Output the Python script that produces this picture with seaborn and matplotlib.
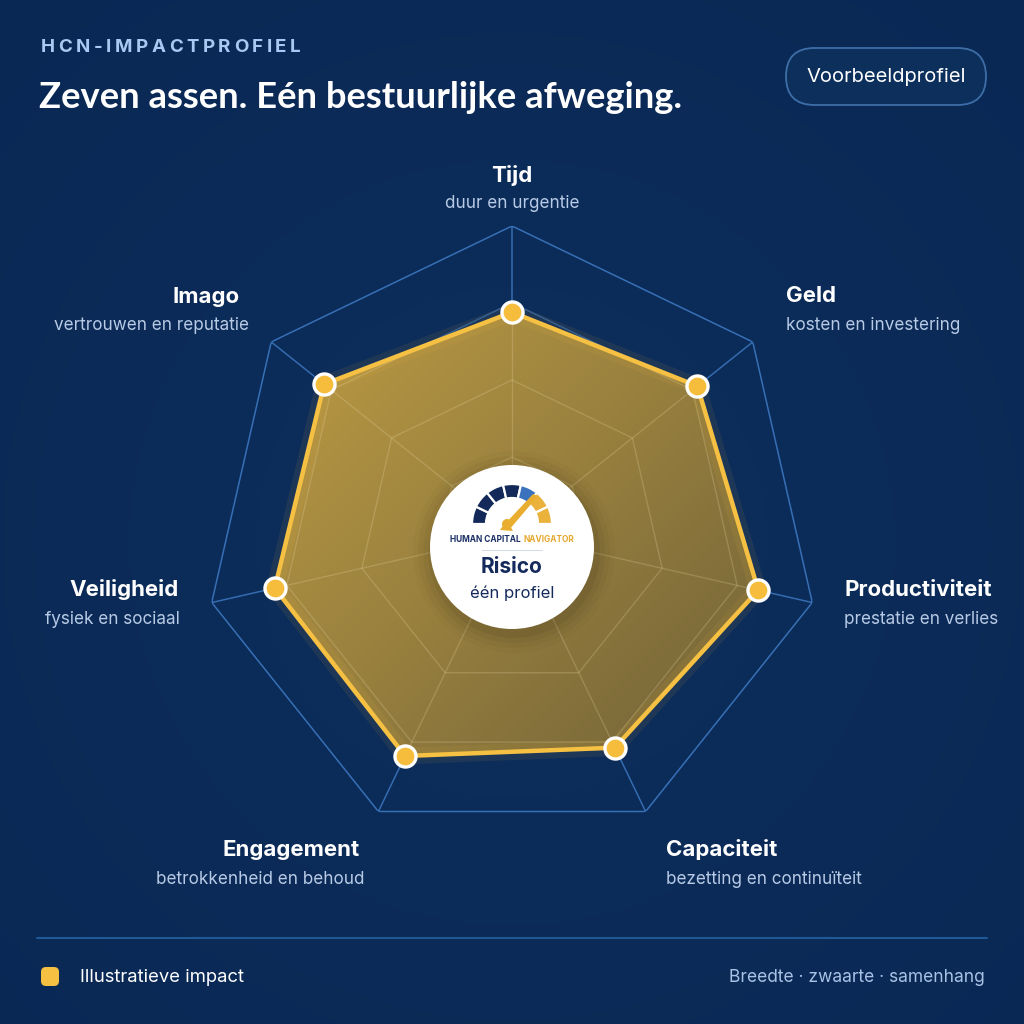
import numpy as np
import pandas as pd
import matplotlib
matplotlib.use("Agg")
import matplotlib.pyplot as plt
import seaborn as sns
from matplotlib.patches import Circle, Wedge, FancyBboxPatch, Polygon

# ---------------- data ----------------
axis_names = ["Tijd", "Geld", "Productiviteit", "Capaciteit", "Engagement", "Veiligheid", "Imago"]
axis_subs = ["duur en urgentie", "kosten en investering", "prestatie en verlies",
             "bezetting en continuïteit", "betrokkenheid en behoud", "fysiek en sociaal",
             "vertrouwen en reputatie"]
impact = [72, 77, 82, 77, 80, 79, 78]
ring_levels = [25, 50, 75, 100]
r_max = 100

kicker = "HCN-IMPACTPROFIEL"
title = "Zeven assen. Eén bestuurlijke afweging."
pill_text = "Voorbeeldprofiel"
legend_text = "Illustratieve impact"
footer_right = "Breedte · zwaarte · samenhang"
center_brand = ["HUMAN CAPITAL", "NAVIGATOR"]
center_title = "Risico"
center_sub = "één profiel"
gauge_colors = ["#12295a", "#12295a", "#12295a", "#12295a", "#3b72bd", "#eab23a", "#eab23a"]

# label layout (pixel anchors): title pos, sub pos, alignment
label_layout = [
    ((512, 175), (512, 204), "center"),
    ((786, 296), (786, 325), "left"),
    ((844, 590), (844, 620), "left"),
    ((666, 850), (666, 880), "left"),
    ((360, 850), (365, 880), "right"),
    ((179, 590), (180, 620), "right"),
    ((240, 297), (249, 325), "right"),
]

# ---------------- style ----------------
sns.set_theme(style="white")
plt.rcParams["font.family"] = ["Inter", "DejaVu Sans"]

W = 1024
BG = "#0b2b58"
GOLD = "#f6c142"
fig = plt.figure(figsize=(10.24, 10.24), dpi=100)
fig.patch.set_facecolor(BG)

# background with a very soft central glow
bg = fig.add_axes([0, 0, 1, 1], zorder=0)
bg.set_axis_off()
yy, xx = np.mgrid[0:256, 0:256] / 255.0
d = np.sqrt((xx - 0.5) ** 2 + (yy - 0.53) ** 2)
t = np.clip(d / 0.75, 0, 1)[..., None]
c_center = np.array([13, 46, 92]) / 255
c_edge = np.array([10, 40, 84]) / 255
bg.imshow(c_center * (1 - t) + c_edge * t, extent=(0, 1, 0, 1), aspect="auto")
bg.set_xlim(0, 1); bg.set_ylim(0, 1)

cx, cy, R = 512, 534, 308
rect = [(cx - R) / W, (W - cy - R) / W, 2 * R / W, 2 * R / W]

def make_polar(z):
    a = fig.add_axes(rect, projection="polar", zorder=z)
    a.set_theta_zero_location("N")
    a.set_theta_direction(-1)
    a.set_axis_off()
    return a

n = len(axis_names)
theta = np.arange(n) * 2 * np.pi / n
theta_c = np.append(theta, theta[0])
vals_c = np.append(impact, impact[0])

# --- polar layer 1: blue grid
p1 = make_polar(1)
for lv in ring_levels:
    p1.plot(theta_c, [lv] * (n + 1), color="#3f7cc6", lw=1.1, alpha=0.85 if lv == 100 else 0.55)
for th in theta:
    p1.plot([th, th], [0, r_max], color="#3f7cc6", lw=1.1, alpha=0.8)
p1.set_ylim(0, r_max)

# --- polar layer 3: outline, markers (create first to get clip patch)
p3 = make_polar(3)
clip_poly = p3.fill(theta_c, vals_c, facecolor="none", edgecolor="none")[0]

# --- cartesian layer 2: gradient fill clipped to polygon
g = fig.add_axes([0, 0, 1, 1], zorder=2)
g.set_axis_off()
g.patch.set_alpha(0)
gy, gx = np.mgrid[0:512, 0:512] * 2.0
tt = np.clip(((gx - 270) + (gy - 300)) / 950.0, 0, 1)[..., None]
c_tl = np.array([190, 156, 68]) / 255
c_br = np.array([112, 98, 56]) / 255
grad = c_tl * (1 - tt) + c_br * tt
img = g.imshow(grad, extent=(0, W, W, 0), aspect="auto")
g.set_xlim(0, W); g.set_ylim(W, 0)
img.set_clip_path(clip_poly)

# faint grid lines inside the fill
for lv in ring_levels[:3]:
    ln, = p3.plot(theta_c, [lv] * (n + 1), color="#f0e0b0", lw=1.0, alpha=0.22)
    ln.set_clip_path(clip_poly)
for th in theta:
    ln, = p3.plot([th, th], [0, r_max], color="#f0e0b0", lw=1.0, alpha=0.22)
    ln.set_clip_path(clip_poly)

# glow + outline
p3.plot(theta_c, vals_c, color=GOLD, lw=12, alpha=0.08, solid_joinstyle="round")
p3.plot(theta_c, vals_c, color=GOLD, lw=3.2, solid_joinstyle="round")
df = pd.DataFrame({"theta": theta, "impact": impact})
sns.scatterplot(data=df, x="theta", y="impact", ax=p3, s=230, color="#f6bd3c",
                edgecolor="white", linewidth=2.4, zorder=6, legend=False)
p3.set_axis_off()
p3.set_ylim(0, r_max)

# --- overlay: texts & decorations
o = fig.add_axes([0, 0, 1, 1], zorder=4)
o.set_axis_off()
o.patch.set_alpha(0)
o.set_xlim(0, W); o.set_ylim(W, 0)

# kicker with letter spacing
renderer = fig.canvas.get_renderer()
x = 41
for ch in kicker:
    tx = o.text(x, 48, ch, color="#a9c8f2", fontsize=13.5, fontweight="bold", va="center", ha="left")
    bb = tx.get_window_extent(renderer=renderer)
    x += bb.width + 3.5

o.text(39, 98, title, family=["Lato", "DejaVu Sans"], color="white", fontsize=26.2,
       fontweight="bold", va="center", ha="left")

# pill
o.add_patch(FancyBboxPatch((786, 48), 200, 57, boxstyle="round,pad=0,rounding_size=28.5",
                           fc="#0d2f5c", ec="#3d6ea8", lw=1.3))
o.text(886, 77, pill_text, color="white", fontsize=14.5, va="center", ha="center")

# axis labels
for name, sub, (tp, sp, ha) in zip(axis_names, axis_subs, label_layout):
    o.text(tp[0], tp[1], name, color="white", fontsize=16, fontweight="bold", ha=ha, va="center")
    o.text(sp[0], sp[1], sub, color="#b8cbe6", fontsize=12.3, ha=ha, va="center")

# center badge
ccx, ccy, cr = 512, 547, 82
for i, a in enumerate([0.05, 0.04, 0.03, 0.02]):
    o.add_patch(Circle((ccx + 2, ccy + 5), cr + 4 + i * 5, fc="black", ec="none", alpha=a))
o.add_patch(Circle((ccx, ccy), cr, fc="white", ec="none"))

gcx, gcy, gro, gw = 512, 524, 40, 14
seg = 180 / len(gauge_colors)
for i, col in enumerate(gauge_colors):
    o.add_patch(Wedge((gcx, gcy), gro, 180 + i * seg, 180 + (i + 1) * seg, width=gw,
                      fc=col, ec="white", lw=1.6))
# needle
o.add_patch(Polygon([(503, 526), (509, 530), (538, 496), (533, 494)], closed=True, fc="#e9ad2f", ec="none"))
o.add_patch(Circle((507, 524), 5, fc="#e9ad2f", ec="none"))
o.add_patch(Polygon([(500, 530), (507, 520), (513, 531)], closed=True, fc="#e9ad2f", ec="none"))

o.text(521, 540, center_brand[0], color="#1b2f66", fontsize=6.0, fontweight="bold", ha="right", va="center")
o.text(524, 540, center_brand[1], color="#e6a82e", fontsize=6.0, fontweight="bold", ha="left", va="center")
o.plot([482, 542], [550, 550], color="#d8dbe2", lw=0.8)
o.text(512, 567, center_title, color="#14295c", fontsize=15, fontweight="bold", ha="center", va="center")
o.text(512, 593, center_sub, color="#14295c", fontsize=12, ha="center", va="center")

# footer
o.plot([37, 987], [938, 938], color="#1f5996", lw=1.5)
o.add_patch(FancyBboxPatch((41, 967), 18, 19, boxstyle="round,pad=0,rounding_size=5", fc=GOLD, ec="none"))
o.text(80, 977, legend_text, color="white", fontsize=13.3, ha="left", va="center")
o.text(985, 977, footer_right, color="#a9c3e6", fontsize=12.5, ha="right", va="center")

fig.savefig("out.png", dpi=100, facecolor=BG)
